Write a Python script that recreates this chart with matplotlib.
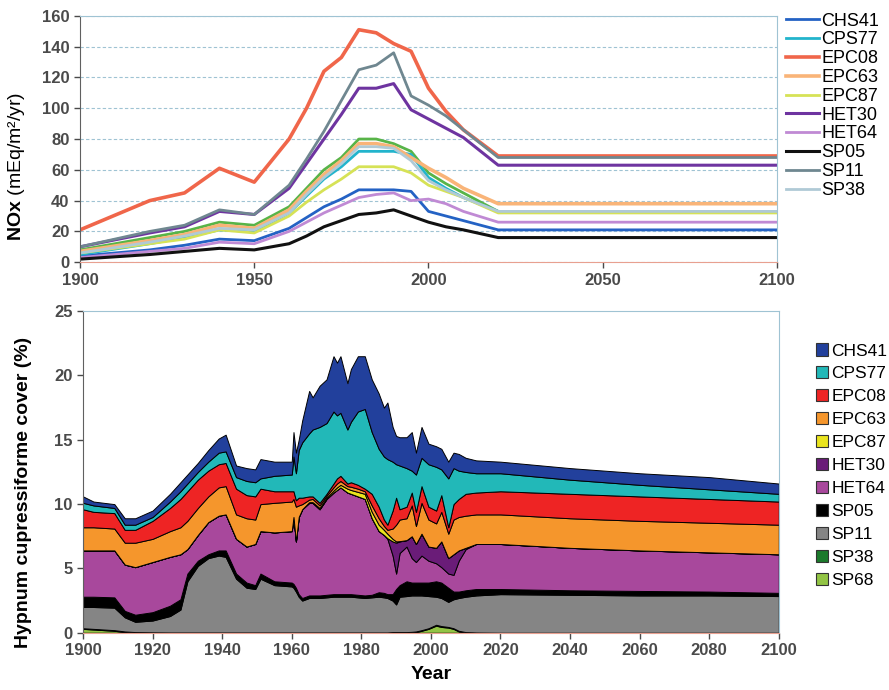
import numpy as np
import matplotlib
matplotlib.use("Agg")
import matplotlib.pyplot as plt
from matplotlib.patches import Patch

plt.rcParams["font.family"] = ["Liberation Sans", "DejaVu Sans"]
plt.rcParams["mathtext.fontset"] = "custom"
plt.rcParams["mathtext.rm"] = "Liberation Sans"
plt.rcParams["mathtext.bf"] = "Liberation Sans:bold"

# ---- top panel: NOx deposition per site ----
years_nox = [1900, 1920, 1930, 1940, 1950, 1960, 1965, 1970, 1975, 1980,
             1985, 1990, 1995, 2000, 2005, 2010, 2020, 2100]
nox_chs41 = [4, 8, 11, 15, 14, 22, 29, 36, 41, 47, 47, 47, 46, 33, 30, 27, 21, 21]
nox_cps77 = [5, 12, 16, 21, 20, 32, 43, 54, 62, 72, 72, 72, 70, 55, 48, 42, 33, 33]
nox_epc08 = [21, 40, 45, 61, 52, 80, 100, 124, 133, 151, 149, 142, 137, 113, 98, 86, 69, 69]
nox_epc63 = [7, 14, 18, 24, 22, 34, 46, 57, 66, 77, 77, 75, 68, 61, 55, 48, 38, 38]
nox_epc87 = [6, 12, 15, 21, 19, 30, 39, 47, 54, 62, 62, 62, 58, 50, 46, 42, 32, 32]
nox_het30 = [10, 19, 23, 33, 31, 48, 64, 80, 96, 113, 113, 116, 99, 93, 87, 81, 63, 63]
nox_het64 = [3, 7, 9, 13, 12, 20, 26, 32, 37, 42, 44, 45, 40, 41, 38, 33, 26, 26]
nox_sp05 = [2, 5, 7, 9, 8, 12, 17, 23, 27, 31, 32, 34, 30, 26, 23, 21, 16, 16]
nox_sp11 = [10, 20, 24, 34, 31, 50, 67, 85, 105, 125, 128, 136, 108, 102, 95, 86, 68, 68]
nox_sp38 = [6, 13, 17, 22, 21, 32, 44, 55, 64, 75, 75, 74, 66, 53, 47, 42, 33, 33]
nox_sp68 = [8, 16, 20, 26, 24, 36, 48, 60, 68, 80, 80, 77, 72, 58, 51, 45, 33, 33]

# ---- bottom panel: upper edge of each stacked layer (% cover) ----
years_cov = [1900, 1903, 1909, 1912, 1915, 1920, 1925, 1928, 1930, 1933,
             1936, 1939, 1941, 1944, 1947, 1949.5, 1951, 1955, 1960, 1960.5,
             1961.2, 1962, 1963, 1965, 1966, 1968, 1970, 1972, 1973, 1974,
             1976, 1977, 1979, 1981, 1983, 1985, 1986.5, 1987.5, 1989, 1990,
             1991, 1993, 1994.5, 1995.7, 1997.3, 1999.3, 2001.5, 2003, 2005, 2006.5,
             2008, 2010, 2013, 2020, 2040, 2060, 2080, 2100]
top_sp68 = [0.3, 0.25, 0.15, 0.05, 0, 0, 0, 0, 0, 0,
            0, 0, 0, 0, 0, 0, 0, 0, 0, 0,
            0, 0, 0, 0, 0, 0, 0, 0, 0, 0,
            0, 0, 0, 0, 0, 0, 0, 0, 0, 0,
            0, 0, 0.02, 0.05, 0.15, 0.3, 0.55, 0.45, 0.4, 0.3,
            0.1, 0.02, 0, 0, 0, 0, 0, 0]
top_sp38 = [0.35, 0.3, 0.2, 0.1, 0.05, 0.03, 0.02, 0.02, 0.02, 0.02,
            0.02, 0.02, 0.02, 0.02, 0.02, 0.02, 0.02, 0.02, 0.02, 0.02,
            0.02, 0.02, 0.02, 0.02, 0.02, 0.02, 0.02, 0.02, 0.02, 0.02,
            0.02, 0.02, 0.02, 0.02, 0.02, 0.02, 0.02, 0.02, 0.05, 0.05,
            0.05, 0.05, 0.07, 0.1, 0.2, 0.35, 0.62, 0.52, 0.45, 0.35,
            0.15, 0.05, 0.02, 0, 0, 0, 0, 0]
top_sp11 = [2.0, 2.0, 1.95, 1.2, 0.85, 0.95, 1.3, 1.8, 4.0, 5.2,
            5.8, 6.0, 5.9, 4.2, 3.5, 3.4, 4.2, 3.7, 3.6, 3.5,
            3.2, 2.8, 2.5, 2.7, 2.7, 2.7, 2.75, 2.8, 2.8, 2.8,
            2.8, 2.8, 2.75, 2.7, 2.75, 2.8, 2.75, 2.7, 2.5, 2.2,
            2.8, 2.85, 2.9, 2.9, 2.9, 2.85, 2.8, 2.7, 2.4, 2.6,
            2.7, 2.8, 2.9, 3.0, 2.95, 2.9, 2.9, 2.85]
top_sp05 = [2.8, 2.8, 2.75, 1.7, 1.4, 1.6, 2.1, 2.6, 4.6, 5.6,
            6.1, 6.4, 6.4, 4.6, 3.9, 3.7, 4.6, 4.0, 3.9, 3.8,
            3.5, 3.0, 2.7, 2.9, 2.9, 2.9, 2.95, 3.0, 3.0, 3.0,
            3.0, 3.0, 2.95, 2.9, 2.95, 3.15, 3.1, 3.0, 3.0, 3.4,
            3.7, 4.0, 3.9, 3.9, 3.9, 3.9, 4.0, 3.9, 3.5, 3.2,
            3.2, 3.3, 3.4, 3.4, 3.3, 3.25, 3.2, 3.1]
top_het64 = [6.4, 6.4, 6.4, 5.3, 5.1, 5.5, 5.9, 6.1, 6.5, 7.6,
             8.6, 9.1, 9.2, 7.3, 6.7, 6.9, 7.9, 7.8, 7.9, 9.0,
             7.1, 9.0, 9.6, 10.1, 10.1, 9.6, 10.4, 10.9, 11.1, 11.3,
             10.9, 10.8, 10.6, 10.4, 8.9, 7.9, 7.6, 7.3, 6.0, 4.6,
             6.2, 6.7, 5.8, 5.5, 6.0, 5.6, 5.4, 5.1, 4.6, 4.5,
             5.6, 6.5, 6.9, 6.9, 6.6, 6.4, 6.25, 6.1]
top_het30 = [6.4, 6.4, 6.4, 5.3, 5.1, 5.5, 5.9, 6.1, 6.5, 7.6,
             8.6, 9.1, 9.2, 7.3, 6.7, 6.9, 7.9, 7.8, 7.9, 9.0,
             7.1, 9.0, 9.6, 10.1, 10.1, 9.6, 10.4, 10.9, 11.1, 11.3,
             10.9, 10.8, 10.6, 10.4, 8.9, 7.9, 7.6, 7.35, 7.1, 7.0,
             7.1, 7.2, 7.5, 6.9, 7.7, 6.7, 6.6, 7.1, 5.8, 6.1,
             6.4, 6.6, 6.9, 6.9, 6.6, 6.4, 6.25, 6.1]
top_epc87 = [6.4, 6.4, 6.4, 5.3, 5.1, 5.5, 5.9, 6.1, 6.5, 7.6,
             8.6, 9.1, 9.2, 7.3, 6.7, 6.9, 7.9, 7.8, 7.9, 9.0,
             7.1, 9.0, 9.6, 10.15, 10.15, 9.7, 10.5, 11.05, 11.3, 11.5,
             11.2, 11.1, 10.95, 10.8, 9.4, 8.4, 8.0, 7.7, 7.3, 7.1,
             7.12, 7.2, 7.5, 6.9, 7.7, 6.7, 6.6, 7.1, 5.8, 6.1,
             6.4, 6.6, 6.9, 6.9, 6.6, 6.4, 6.25, 6.1]
top_epc63 = [8.2, 8.2, 8.1, 7.0, 7.0, 7.3, 7.9, 8.2, 8.7, 9.7,
             10.6, 11.3, 11.4, 9.2, 8.9, 8.8, 10.0, 10.1, 10.2, 10.4,
             9.8, 9.9, 10.0, 10.35, 10.4, 9.9, 10.65, 11.3, 11.6, 11.8,
             11.4, 11.35, 11.2, 11.0, 9.9, 8.9, 8.3, 8.0, 8.1, 8.4,
             8.8, 8.9, 9.9, 8.3, 10.1, 8.8, 8.5, 9.4, 7.7, 8.8,
             9.0, 9.1, 9.2, 9.2, 8.9, 8.7, 8.55, 8.4]
top_epc08 = [9.6, 9.4, 9.3, 8.0, 8.0, 8.7, 9.7, 10.4, 11.0, 11.9,
             12.6, 13.1, 13.2, 11.2, 10.7, 10.6, 11.2, 11.0, 11.0, 11.0,
             10.3, 10.5, 10.5, 10.6, 10.6, 10.1, 10.8, 11.6, 12.0, 12.2,
             11.6, 11.7, 11.5, 11.2, 10.8, 9.8, 8.8, 8.4, 9.5, 10.5,
             9.6, 9.8, 10.9, 9.4, 11.4, 9.8, 9.5, 10.7, 8.2, 10.0,
             10.4, 10.8, 10.9, 11.0, 10.8, 10.6, 10.4, 10.2]
top_cps77 = [10.1, 9.9, 9.7, 8.4, 8.4, 9.0, 10.2, 11.0, 11.6, 12.5,
             13.3, 14.0, 14.1, 12.1, 11.8, 11.7, 12.0, 12.2, 12.3, 13.7,
             12.4, 14.2, 14.8, 15.5, 15.8, 16.0, 16.3, 17.2, 16.9, 17.1,
             15.8, 16.4, 17.2, 17.4, 15.6, 14.3, 13.7, 13.5, 13.3, 13.1,
             13.0, 12.8, 12.6, 12.3, 13.6, 13.1, 12.9, 12.7, 12.0, 12.8,
             12.6, 12.5, 12.4, 12.4, 11.9, 11.5, 11.15, 10.8]
top_chs41 = [10.6, 10.2, 10.0, 8.9, 8.9, 9.5, 10.8, 11.7, 12.3, 13.2,
             14.2, 15.1, 15.4, 13.0, 12.8, 12.7, 13.5, 13.3, 13.3, 15.6,
             14.0, 15.0, 16.5, 18.8, 18.3, 19.2, 19.7, 21.5, 21.0, 21.5,
             19.4, 20.5, 21.5, 21.5, 19.7, 18.6, 17.5, 17.9, 16.0, 15.3,
             15.2, 15.2, 15.6, 14.0, 16.0, 14.7, 14.5, 14.3, 13.3, 14.0,
             13.9, 13.6, 13.4, 13.3, 12.8, 12.4, 12.1, 11.6]

TICK_COLOR = "#4a4a4a"
FRAME_BLUE = "#9fc3d3"

fig = plt.figure(figsize=(8.89, 6.9), dpi=100)

# ---------------- top panel ----------------
ax1 = fig.add_axes([0.090, 0.620, 0.784, 0.357])
lines_top = [
    ("CHS41", nox_chs41, "#2462c4", 2.0),
    ("CPS77", nox_cps77, "#22b4cc", 2.0),
    ("EPC08", nox_epc08, "#f0664a", 2.6),
    ("EPC63", nox_epc63, "#f9b478", 2.6),
    ("EPC87", nox_epc87, "#d6e256", 2.0),
    ("HET30", nox_het30, "#6e34a0", 2.2),
    ("HET64", nox_het64, "#c08ad4", 2.0),
    ("SP05", nox_sp05, "#111111", 2.2),
    ("SP11", nox_sp11, "#6f8790", 2.0),
    ("SP38", nox_sp38, "#b0cad6", 2.0),
]
ax1.plot(years_nox, nox_sp68, color="#58b448", lw=2.0, label="_nolegend_")
for name, vals, col, lw in lines_top:
    ax1.plot(years_nox, vals, color=col, lw=lw, label=name)

ax1.set_xlim(1900, 2100)
ax1.set_ylim(0, 160)
ax1.set_xticks([1900, 1950, 2000, 2050, 2100])
ax1.set_yticks(range(0, 161, 20))
ax1.yaxis.grid(True, linestyle=(0, (3, 2)), color=FRAME_BLUE, lw=0.8)
ax1.set_axisbelow(True)
ax1.tick_params(axis="both", direction="out", length=4, colors=TICK_COLOR,
                labelsize=12, width=1)
for lab in ax1.get_xticklabels() + ax1.get_yticklabels():
    lab.set_fontweight("bold")
ax1.spines["left"].set_color("#606060")
ax1.spines["bottom"].set_color("#e8a090")
ax1.spines["top"].set_color(FRAME_BLUE)
ax1.spines["right"].set_color(FRAME_BLUE)
ax1.set_ylabel(r"$\mathbf{NOx}$ (mEq/m²/yr)", fontsize=14)
ax1.yaxis.set_label_coords(-0.076, 0.39)
ax1.legend(loc="upper left", bbox_to_anchor=(0.870, 1.0), bbox_transform=fig.transFigure,
           frameon=False, fontsize=13, handlelength=1.85, handletextpad=0.1,
           labelspacing=0.1, borderpad=0.2)

# ---------------- bottom panel ----------------
ax2 = fig.add_axes([0.0934, 0.083, 0.7826, 0.466])
layers = [
    ("SP68", top_sp68, "#92c444"),
    ("SP38", top_sp38, "#1c7a2c"),
    ("SP11", top_sp11, "#858585"),
    ("SP05", top_sp05, "#000000"),
    ("HET64", top_het64, "#a8489c"),
    ("HET30", top_het30, "#6a1c78"),
    ("EPC87", top_epc87, "#eae41e"),
    ("EPC63", top_epc63, "#f5962c"),
    ("EPC08", top_epc08, "#ee2424"),
    ("CPS77", top_cps77, "#22b8b8"),
    ("CHS41", top_chs41, "#22409c"),
]
edges = np.maximum.accumulate(np.array([l[1] for l in layers], dtype=float), axis=0)
lower = np.zeros(len(years_cov))
for (name, _, col), upper in zip(layers, edges):
    ax2.fill_between(years_cov, lower, upper, facecolor=col, edgecolor="black",
                     linewidth=0.7)
    lower = upper

ax2.set_xlim(1900, 2100)
ax2.set_ylim(0, 25)
ax2.set_xticks(range(1900, 2101, 20))
ax2.set_yticks(range(0, 26, 5))
ax2.tick_params(axis="both", direction="out", length=4, colors=TICK_COLOR,
                labelsize=12, width=1)
for lab in ax2.get_xticklabels() + ax2.get_yticklabels():
    lab.set_fontweight("bold")
ax2.spines["left"].set_color("#606060")
ax2.spines["bottom"].set_color("#e8a090")
ax2.spines["top"].set_color(FRAME_BLUE)
ax2.spines["right"].set_color(FRAME_BLUE)
ax2.set_ylabel("Hypnum cupressiforme cover (%)", fontsize=14, fontweight="bold")
ax2.yaxis.set_label_coords(-0.074, 0.435)
ax2.set_xlabel("Year", fontsize=14, fontweight="bold", labelpad=6)

handles = [Patch(facecolor=col, edgecolor="#333333", linewidth=0.8, label=name)
           for name, _, col in layers[::-1]]
ax2.legend(handles=handles, loc="upper left", bbox_to_anchor=(0.904, 0.52),
           bbox_transform=fig.transFigure, frameon=False, fontsize=12.5,
           handlelength=0.7, handleheight=0.7, handletextpad=0.2,
           labelspacing=0.45, borderpad=0.2)

fig.savefig("out.png", dpi=100)
